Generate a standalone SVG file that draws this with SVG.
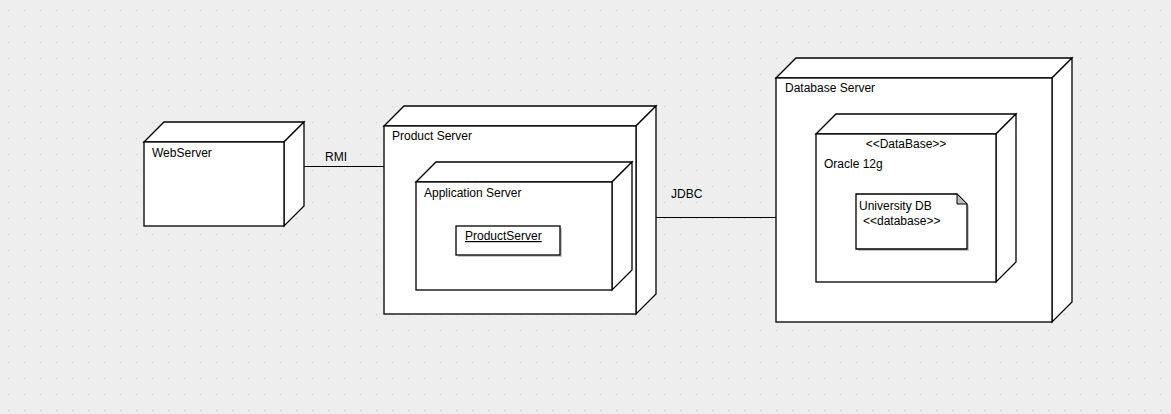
<svg xmlns="http://www.w3.org/2000/svg" width="1171" height="414" viewBox="0 0 1171 414">
<defs>
<pattern id="grid" x="0" y="0" width="16" height="16" patternUnits="userSpaceOnUse">
<rect x="8" y="10" width="1.2" height="1.2" fill="#d2d2d2"/>
</pattern>
</defs>
<style>
.n{fill:#fff;stroke:#000;stroke-width:1.3;stroke-linejoin:miter}
.t{font-family:"Liberation Sans",Arial,sans-serif;font-size:12px;fill:#000}
.c{stroke:#000;stroke-width:1.2;fill:none}
.sh{fill:#c8c8c8}
</style>
<rect width="1171" height="414" fill="#eeeeee"/>
<rect width="1171" height="414" fill="url(#grid)"/>

<g id="connectors">
<line class="c" x1="284" y1="166.5" x2="384" y2="166.5"/>
<text class="t" x="325" y="161">RMI</text>
<line class="c" x1="636" y1="217.5" x2="776" y2="217.5"/>
<text class="t" x="671" y="198">JDBC</text>
</g>

<g id="webserver">
<path class="n" d="M144 142 L164 122 L304 122 L284 142 Z"/>
<path class="n" d="M284 142 L304 122 L304 206 L284 226 Z"/>
<rect class="n" x="144" y="142" width="140" height="84"/>
<text class="t" x="152" y="157">WebServer</text>
</g>

<g id="productserver-node">
<path class="n" d="M384 126 L404 106 L656 106 L636 126 Z"/>
<path class="n" d="M636 126 L656 106 L656 294 L636 314 Z"/>
<rect class="n" x="384" y="126" width="252" height="188"/>
<text class="t" x="392" y="140">Product Server</text>
</g>

<g id="application-server">
<path class="n" d="M416 182 L436 162 L632 162 L612 182 Z"/>
<path class="n" d="M612 182 L632 162 L632 270 L612 290 Z"/>
<rect class="n" x="416" y="182" width="196" height="108"/>
<text class="t" x="424" y="197">Application Server</text>
</g>

<g id="productserver-component">
<rect class="sh" x="458" y="228" width="104" height="29"/>
<rect class="n" x="456" y="226" width="104" height="29"/>
<text class="t" x="465" y="240" text-decoration="underline">ProductServer</text>
</g>

<g id="database-server">
<path class="n" d="M776 78 L796 58 L1072 58 L1052 78 Z"/>
<path class="n" d="M1052 78 L1072 58 L1072 302 L1052 322 Z"/>
<rect class="n" x="776" y="78" width="276" height="244"/>
<text class="t" x="785" y="92">Database Server</text>
</g>

<g id="oracle">
<path class="n" d="M816 134 L836 114 L1016 114 L996 134 Z"/>
<path class="n" d="M996 134 L1016 114 L1016 262 L996 282 Z"/>
<rect class="n" x="816" y="134" width="180" height="148"/>
<text class="t" x="906" y="148" text-anchor="middle">&lt;&lt;DataBase&gt;&gt;</text>
<text class="t" x="824" y="168">Oracle 12g</text>
</g>

<g id="university-db">
<path class="sh" d="M858 196 L959 196 L969 206 L969 251 L858 251 Z"/>
<path class="n" d="M856 194 L957 194 L967 204 L967 249 L856 249 Z"/>
<path d="M957 194 L967 204 L957 204 Z" fill="#bdbdbd" stroke="#000" stroke-width="1"/>
<text class="t" x="859" y="210">University DB</text>
<text class="t" x="863" y="225">&lt;&lt;database&gt;&gt;</text>
</g>
</svg>
